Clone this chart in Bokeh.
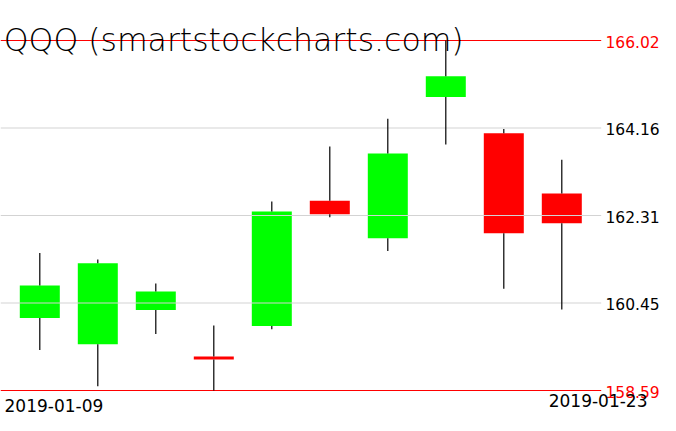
import numpy as np
from bokeh.plotting import figure
from bokeh.models import Range1d, Label, ColumnDataSource
from bokeh.core.properties import value
from bokeh.embed import file_html
from bokeh.resources import INLINE

# ---- data ----
dates = ["2019-01-09", "2019-01-10", "2019-01-11", "2019-01-14", "2019-01-15",
         "2019-01-16", "2019-01-17", "2019-01-18", "2019-01-22", "2019-01-23"]
opens = [160.13, 159.57, 160.30, 159.31, 159.96, 162.62, 161.82, 164.82, 164.05, 162.77]
highs = [161.51, 161.37, 160.86, 159.97, 162.60, 163.77, 164.36, 166.02, 164.14, 163.49]
lows = [159.45, 158.68, 159.79, 158.59, 159.89, 162.27, 161.55, 163.81, 160.75, 160.31]
closes = [160.82, 161.29, 160.69, 159.25, 162.39, 162.33, 163.62, 165.26, 161.93, 162.14]
tick_values = [158.59, 160.4475, 162.305, 164.1625, 166.02]
tick_labels = ["158.59", "160.45", "162.31", "164.16", "166.02"]
title_text = "QQQ (smartstockcharts.com)"

# ---- layout ----
W, H = 660, 415
pitch = 58.0
x0px = 39.3
hi, lo = max(highs), min(lows)
k = 350.0 / (hi - lo)
top_px = 40.0

x_range = Range1d(-x0px / pitch, (W - x0px) / pitch)
y_range = Range1d(hi - (H - top_px) / k, hi + top_px / k)

p = figure(width=W, height=H, x_range=x_range, y_range=y_range,
           output_backend="svg", toolbar_location=None, min_border=0)
p.axis.visible = False
p.grid.visible = False
p.outline_line_color = None
p.background_fill_color = "white"
p.border_fill_color = "white"

o = np.array(opens); c = np.array(closes); h = np.array(highs); l = np.array(lows)
idx = np.arange(len(dates))
up = c >= o
src = ColumnDataSource(dict(
    x=idx,
    top=np.maximum(o, c),
    bottom=np.minimum(o, c),
    high=h, low=l,
    color=np.where(up, "#00ff00", "#ff0000"),
))

# bodies
p.vbar(x="x", width=40 / pitch, top="top", bottom="bottom", fill_color="color",
       line_color=None, source=src)

# grid lines & min/max lines
xl0 = x_range.start
xl1 = (600.7 - x0px) / pitch
inner = tick_values[1:-1]
p.segment(x0=[xl0] * len(inner), x1=[xl1] * len(inner), y0=inner, y1=inner,
          line_color="#d3d3d3", line_width=1)
p.segment(x0=[xl0, xl0], x1=[xl1, xl1], y0=[lo, hi], y1=[lo, hi],
          line_color="#ff0000", line_width=1.2)

# wicks (outside the body)
p.segment(x0="x", x1="x", y0="high", y1="top", line_color="black", line_width=1.2, source=src)
p.segment(x0="x", x1="x", y0="bottom", y1="low", line_color="black", line_width=1.2, source=src)

# price labels
lab_x = (605.0 - x0px) / pitch
lab_colors = ["#ff0000", "black", "black", "black", "#ff0000"]
p.text(x=[lab_x] * len(tick_values), y=tick_values, text=tick_labels,
       text_color=lab_colors, text_font=value("DejaVu Sans"), text_font_size="15.5px",
       text_baseline="alphabetic", text_align="left", y_offset=1)

# title
p.add_layout(Label(x=3.3, y=H - 39.5, x_units="screen", y_units="screen",
                   text=title_text, text_font="DejaVu Sans Light",
                   text_font_size="31.5px", text_color="black",
                   text_baseline="alphabetic", text_align="left"))

# date labels
p.add_layout(Label(x=4, y=H - 404.5, x_units="screen", y_units="screen",
                   text=dates[0], text_font="DejaVu Sans", text_font_size="17px",
                   text_color="black", text_baseline="alphabetic", text_align="left"))
p.add_layout(Label(x=647, y=H - 400, x_units="screen", y_units="screen",
                   text=dates[-1], text_font="DejaVu Sans", text_font_size="17px",
                   text_color="black", text_baseline="alphabetic", text_align="right"))

open("out.html", "w").write(file_html(p, INLINE))
